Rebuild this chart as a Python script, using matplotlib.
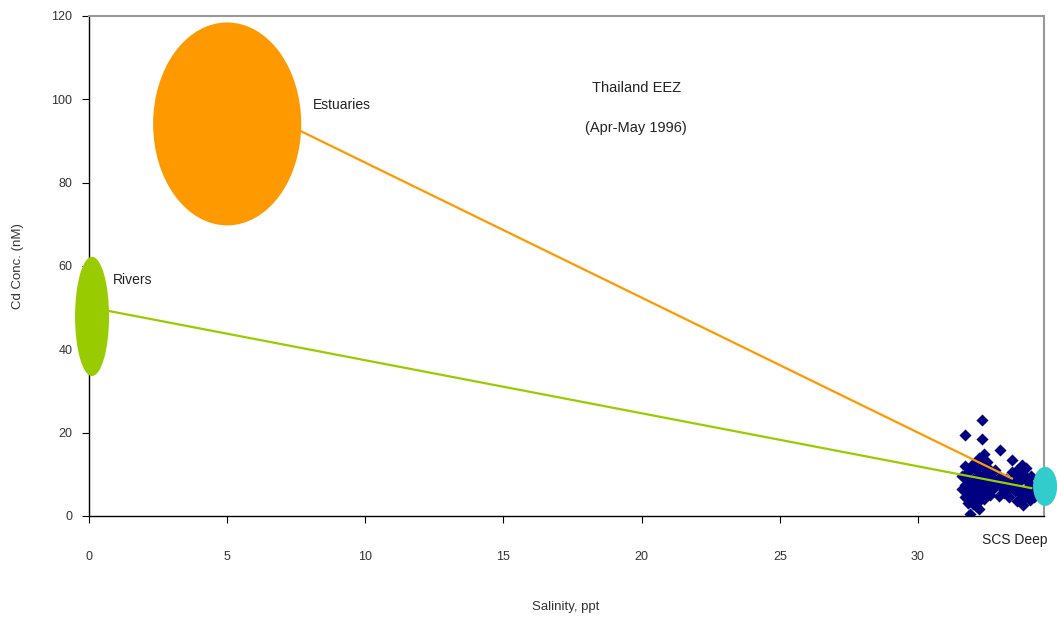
import matplotlib
matplotlib.use("Agg")
import matplotlib.pyplot as plt
from matplotlib.patches import Ellipse

plt.rcParams['font.family'] = ['Liberation Sans', 'DejaVu Sans']

# Sample points (salinity, Cd)
sal = [32.33, 31.70, 32.33, 32.97, 32.40, 33.39, 32.22, 33.76, 32.97, 32.93, 33.30, 31.90, 32.19, 33.80, 34.06,
       31.7, 31.8, 31.9, 32.0, 32.1, 32.3, 32.5, 32.6, 32.4, 32.2, 32.0, 31.8, 31.7, 31.9, 32.1, 32.3, 32.5, 32.7,
       32.6, 32.4, 32.2, 32.0, 31.8, 31.7, 31.9, 32.1, 32.3, 32.5, 32.7, 32.8, 31.8, 32.0, 32.2, 32.4, 32.6, 32.1,
       31.6, 31.6, 32.9, 33.0, 32.8, 32.5, 32.2,
       33.2, 33.4, 33.5, 33.6, 33.7, 33.8, 33.9, 34.0, 34.1, 33.3, 33.5, 33.7, 33.9, 34.0, 33.4, 33.6, 33.2, 33.8,
       34.2, 33.1, 34.1, 33.9, 34.2, 33.6]
cd = [23.0, 19.4, 18.5, 15.8, 15.0, 13.4, 13.6, 12.2, 9.4, 4.8, 4.5, 0.5, 1.7, 2.6, 3.8,
      12.0, 10.5, 11.5, 12.5, 11.0, 12.2, 11.8, 10.5, 10.0, 9.5, 9.0, 8.5, 7.5, 7.0, 8.0, 8.2, 8.8, 9.0,
      7.5, 7.0, 6.5, 6.0, 5.5, 4.5, 4.0, 5.0, 5.5, 6.0, 6.5, 7.8, 3.2, 3.0, 3.5, 4.2, 5.0, 2.5,
      6.5, 9.5, 8.0, 7.0, 11.0, 13.0, 14.0,
      9.0, 8.0, 9.5, 7.0, 8.5, 10.0, 9.0, 8.0, 7.0, 6.5, 6.0, 5.5, 6.5, 5.0, 10.5, 11.0, 7.5, 4.0,
      6.0, 5.5, 9.5, 11.5, 4.5, 3.5]

# End-member ellipses: name, center salinity, center Cd, width (ppt), height (nM), colour
em_names = ['Estuaries', 'Rivers', 'SCS Deep']
em_sal = [5.0, 0.11, 34.6]
em_cd = [94.1, 47.9, 7.1]
em_w = [5.36, 1.23, 0.87]
em_h = [48.7, 28.6, 9.4]
em_colors = ['#FF9900', '#99CC00', '#33CCCC']

# Mixing lines (start salinity, start Cd, end salinity, end Cd)
mix_x = [[5.0, 33.4], [0.72, 34.1]]
mix_y = [[101.0, 9.0], [49.2, 6.7]]
mix_colors = ['#FF9900', '#99CC00']

fig = plt.figure(figsize=(10.57, 6.24), dpi=100)
ax = fig.add_axes([89/1057, 108/624, (1044-89)/1057, 500/624])

ax.scatter(sal, cd, marker='D', s=38, color='#000080', linewidths=0, zorder=2)

for xs, ys, c in zip(mix_x, mix_y, mix_colors):
    ax.plot(xs, ys, color=c, lw=1.6, zorder=3)

for x, y, w, h, c in zip(em_sal, em_cd, em_w, em_h, em_colors):
    ax.add_patch(Ellipse((x, y), w, h, facecolor=c, edgecolor='none', zorder=4, clip_on=False))

ax.set_xlim(0, 34.56)
ax.set_ylim(0, 120)
ax.set_xticks([0, 5, 10, 15, 20, 25, 30])
ax.set_yticks([0, 20, 40, 60, 80, 100, 120])

for side in ['left', 'bottom']:
    ax.spines[side].set_color('black')
    ax.spines[side].set_linewidth(1.0)
for side in ['top', 'right']:
    ax.spines[side].set_color('#999999')
    ax.spines[side].set_linewidth(1.5)

ax.tick_params(axis='y', direction='out', length=5, width=0.8, colors='black', labelcolor='#333333',
               labelsize=9, pad=7)
ax.tick_params(axis='x', direction='out', length=5, width=0.8, colors='black', labelcolor='#333333',
               labelsize=9, pad=20)

fig.text(566/1057, 1 - 607/624, 'Salinity, ppt', fontsize=9.5, color='#333333', ha='center', va='center')
fig.text(18/1057, 1 - 266/624, 'Cd Conc. (nM)', fontsize=9.5, color='#333333', ha='center', va='center',
         rotation=90)

ax.text(19.8, 102.7, 'Thailand EEZ', fontsize=10.5, color='#222222', ha='center', va='center')
ax.text(19.8, 93.1, '(Apr-May 1996)', fontsize=10.5, color='#222222', ha='center', va='center')
ax.text(8.1, 98.6, 'Estuaries', fontsize=10, color='#222222', ha='left', va='center')
ax.text(0.87, 56.6, 'Rivers', fontsize=10, color='#222222', ha='left', va='center')
ax.text(34.7, -5.8, 'SCS Deep', fontsize=10, color='#222222', ha='right', va='center', clip_on=False)

fig.savefig('out.png', dpi=100)
